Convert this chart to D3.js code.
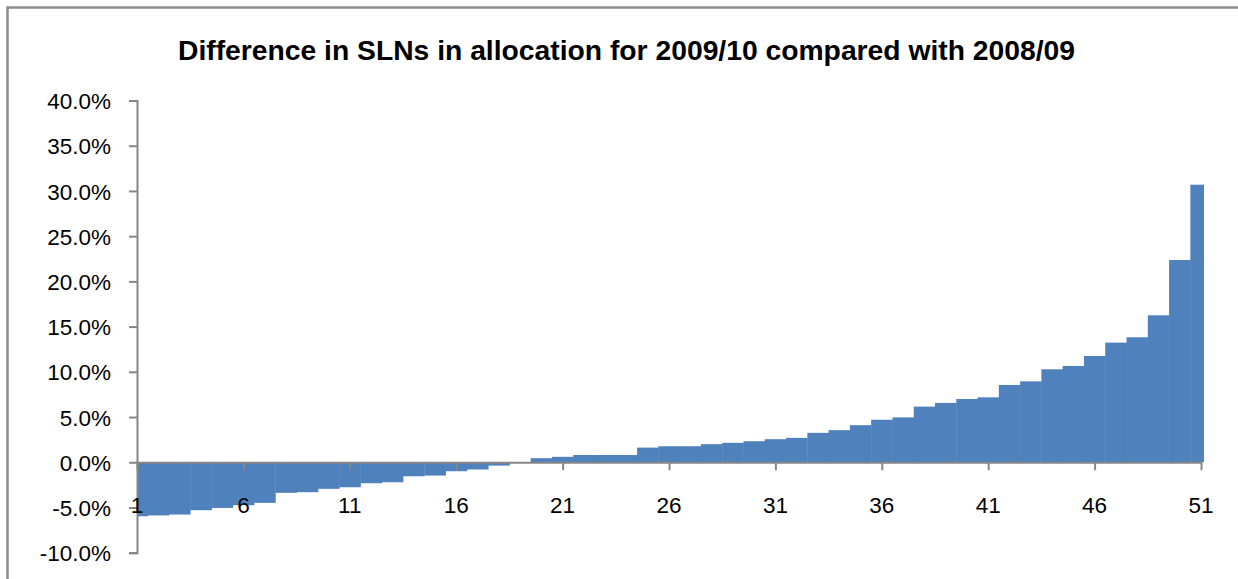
<!DOCTYPE html>
<html>
<head>
<meta charset="utf-8">
<script src="https://cdn.jsdelivr.net/npm/d3@7"></script>
<style>
  html, body { margin: 0; padding: 0; background: #fff; }
  svg { display: block; }
</style>
</head>
<body>
<svg id="chart" width="1238" height="579"></svg>
<script>
const titleText = "Difference in SLNs in allocation for 2009/10 compared with 2008/09";
const categories = d3.range(1, 52);
const values = [
  -5.97, -5.88, -5.78, -5.30, -5.05, -4.75, -4.49, -3.38, -3.31, -2.94,
  -2.76, -2.32, -2.21, -1.55, -1.47, -0.99, -0.80, -0.37, 0.00, 0.45,
  0.60, 0.80, 0.80, 0.80, 1.62, 1.77, 1.77, 2.00, 2.15, 2.33,
  2.55, 2.70, 3.25, 3.55, 4.10, 4.70, 4.96, 6.15, 6.56, 7.00,
  7.18, 8.55, 8.95, 10.28, 10.65, 11.75, 13.23, 13.82, 16.25, 22.36,
  30.69
];
const yTicks = [-10, -5, 0, 5, 10, 15, 20, 25, 30, 35, 40];
const xTickLabels = [1, 6, 11, 16, 21, 26, 31, 36, 41, 46, 51];

const svg = d3.select("#chart");
const font = "'Liberation Sans', Arial, sans-serif";
const axisColor = "#868686";

// outer chart border (top and left visible)
svg.append("path")
  .attr("d", "M7.5,579 L7.5,7.5 L1238,7.5")
  .attr("fill", "none")
  .attr("stroke", "#8c8c8c")
  .attr("stroke-width", 2.5);

// title
svg.append("text")
  .attr("x", 626.5)
  .attr("y", 59.5)
  .attr("text-anchor", "middle")
  .attr("font-family", font)
  .attr("font-weight", "bold")
  .attr("font-size", 27.5)
  .attr("textLength", 897)
  .attr("lengthAdjust", "spacingAndGlyphs")
  .attr("fill", "#000")
  .text(titleText);

const x = d3.scaleLinear().domain([1, 51]).range([137, 1201]);
const y = d3.scaleLinear().domain([-10, 40]).range([552.7, 100.5]);
const step = x(2) - x(1);

// clip bars to plot area
svg.append("clipPath").attr("id", "plotclip")
  .append("rect")
  .attr("x", x(1)).attr("y", 90)
  .attr("width", 1204 - x(1)).attr("height", 470);

svg.append("g")
  .attr("clip-path", "url(#plotclip)")
  .selectAll("rect")
  .data(categories)
  .join("rect")
  .attr("x", (d) => x(d) - step / 2)
  .attr("width", step + 0.4)
  .attr("y", (d, i) => y(Math.max(0, values[i])))
  .attr("height", (d, i) => Math.abs(y(values[i]) - y(0)))
  .attr("fill", "#4f81bd");

// y axis
const yAxis = d3.axisLeft(y)
  .tickValues(yTicks)
  .tickSize(8)
  .tickPadding(18)
  .tickFormat((d) => d.toFixed(1) + "%");
const gy = svg.append("g").attr("transform", `translate(${x(1)},0)`).call(yAxis);
gy.select(".domain").attr("stroke", axisColor).attr("stroke-width", 2);
gy.selectAll(".tick line").attr("stroke", axisColor).attr("stroke-width", 2);
gy.selectAll(".tick text")
  .attr("font-family", font)
  .attr("font-size", 22.5)
  .attr("fill", "#000")
  .attr("dy", "0.36em");

// x axis at zero
const xAxis = d3.axisBottom(x)
  .tickValues(xTickLabels)
  .tickSize(8)
  .tickSizeOuter(0)
  .tickFormat("");
const gx = svg.append("g").attr("transform", `translate(0,${y(0)})`).call(xAxis);
gx.select(".domain").attr("stroke", axisColor).attr("stroke-width", 2);
gx.selectAll(".tick line").attr("stroke", axisColor).attr("stroke-width", 2);

// category labels (placed below, as in reference)
svg.append("g")
  .selectAll("text")
  .data(xTickLabels)
  .join("text")
  .attr("x", (d) => x(d))
  .attr("y", 513)
  .attr("text-anchor", "middle")
  .attr("font-family", font)
  .attr("font-size", 22.5)
  .attr("fill", "#000")
  .text((d) => d);
</script>
</body>
</html>
